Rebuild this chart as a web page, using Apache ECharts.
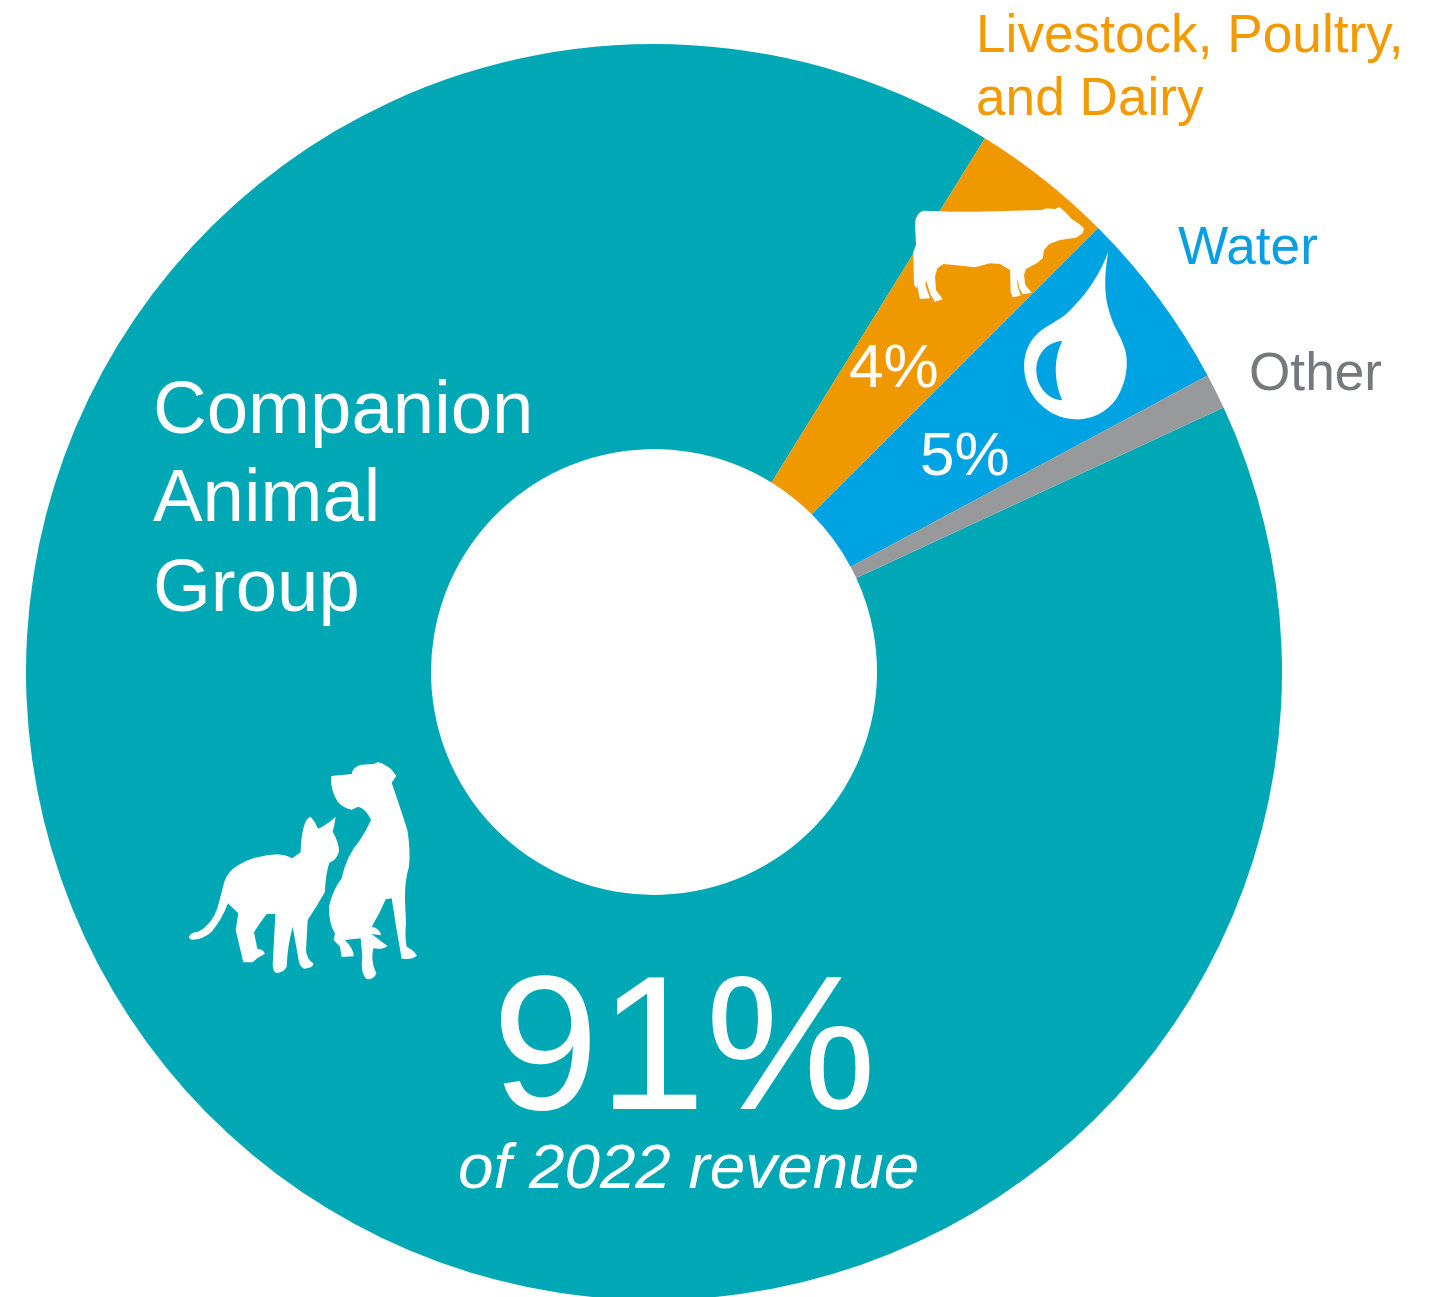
<!DOCTYPE html>
<html>
<head>
<meta charset="utf-8">
<style>html,body{margin:0;padding:0;background:#fff}#c{width:1441px;height:1297px}</style>
<script src="https://cdn.jsdelivr.net/npm/echarts@6/dist/echarts.min.js"></script>
</head>
<body>
<div id="c"></div>
<script>
var categories = ['Companion Animal Group', 'Livestock, Poultry, and Dairy', 'Water', 'Other'];
var shares = [90.75, 3.67, 4.67, 0.91];
var sliceColors = ['#00A8B5', '#F09800', '#00A3E2', '#97999B'];

var FONT = '"Liberation Sans", Arial, sans-serif';
function label(text, x, y, size, color, extra) {
  var style = {text: text, x: x, y: y, fill: color, fontFamily: FONT, fontSize: size, align: 'left', verticalAlign: 'middle'};
  for (var k in (extra || {})) style[k] = extra[k];
  return {type: 'text', z: 20, silent: true, style: style};
}
var iconCount = 0;
function icon(d, ox, oy, fill, z) {
  var name = 'iconShape' + (iconCount++);
  echarts.graphic.registerShape(name, echarts.graphic.extendPath(d, {}));
  return {type: name, z: z || 10, silent: true, x: ox, y: oy, scaleX: 1 / 3, scaleY: 1 / 3,
          style: {fill: fill}};
}
var catPath = 'M58 558Q62 547 85 545Q125 525 142 475Q152 440 163 395Q172 365 205 345Q250 318 320 313Q350 315 366 325L392 307Q392 265 402 228Q410 202 422 200Q436 215 444 236Q470 225 497 200Q494 225 488 245Q506 275 507 305Q498 332 478 338Q466 375 465 425Q440 470 413 510L408 600Q410 628 430 640Q432 655 402 656Q388 652 385 625L368 530Q352 590 350 650Q342 668 318 669Q305 662 309 630L316 492L290 492Q265 525 252 547L262 596Q285 600 284 612Q262 622 248 637L220 637L197 540L205 490L174 460Q155 510 125 545Q100 568 65 569Q55 566 58 558Z';
var dogPath = 'M484 78L545 72Q548 50 575 44L610 42L625 36Q662 48 679 78L665 98Q690 170 712 240Q722 300 717 350Q704 390 705 450L708 520Q704 560 710 590Q736 603 740 618Q725 630 695 626L680 540L665 445L647 448Q630 490 605 530Q628 533 634 556L605 552L652 588Q640 600 610 595Q600 630 619 670Q612 690 590 687Q570 670 577 620L572 565L525 570Q552 598 551 619L515 621L510 590L491 570L495 550Q476 520 477 470Q488 420 515 385Q528 320 570 270Q590 240 603 210Q590 178 565 170L545 179Q508 172 495 140Q480 110 484 78Z';
var cowPath = 'M45 85Q47 55 70 47L150 50L230 50L340 47L425 45L440 40L465 42L478 36L495 50L515 72L535 85L552 100L548 115L528 128L480 135L448 147L432 165L428 190L410 205L378 222L372 240L376 270L395 293L368 298L358 280L352 248L352 270L362 302L338 307L332 290L330 225L300 207L270 205L225 217L185 212L130 207L112 220L105 245L108 285L128 313L105 320L92 300L78 255L76 270L90 310L60 312L55 290L52 270L50 280L42 270L40 170L48 150Z';
var dropPath = 'M625 170C612 240 612 300 628 350C640 395 660 420 668 445C690 490 682 560 650 610C620 655 570 675 525 673C470 670 420 640 392 590C360 530 365 450 425 405C470 375 495 365 520 335C565 290 600 235 625 170Z';
var dropHole = 'M487 438C440 440 408 480 409 528C410 575 445 615 487 616C462 560 460 490 487 438Z';

var chart = echarts.init(document.getElementById('c'), null, {renderer: 'canvas'});
chart.setOption({
  animation: false,
  backgroundColor: '#fff',
  series: [{
    type: 'pie',
    silent: true,
    clockwise: true,
    startAngle: 24.9,
    center: [654, 672],
    radius: [223, 628],
    avoidLabelOverlap: false,
    label: {show: false},
    labelLine: {show: false},
    data: categories.map(function (n, i) {
      return {name: n, value: shares[i], itemStyle: {color: sliceColors[i]}};
    })
  }],
  graphic: [
    icon(catPath, 170, 750, '#fff'),
    icon(dogPath, 170, 750, '#fff'),
    icon(cowPath, 900, 195, '#fff'),
    icon(dropPath, 900, 195, '#fff'),
    icon(dropHole, 900, 195, sliceColors[2], 11),
    label('Companion', 153, 412, 74.4, '#fff'),
    label('Animal', 153, 500, 74.4, '#fff'),
    label('Group', 153, 590, 74.4, '#fff'),
    label('Livestock, Poultry,', 976, 37, 53.2, '#F39A00'),
    label('and Dairy', 976, 100, 53.2, '#F39A00'),
    label('Water', 1178, 249, 53.2, '#0A9FE2'),
    label('Other', 1249, 375, 53.2, '#77787B'),
    label('4%', 849, 370, 62, '#fff'),
    label('5%', 920, 458, 62, '#fff'),
    label('91%', 492, 1056, 192, '#fff'),
    label('of 2022 revenue', 458, 1170, 63.8, '#fff', {fontStyle: 'italic'})
  ]
});
</script>
</body>
</html>
